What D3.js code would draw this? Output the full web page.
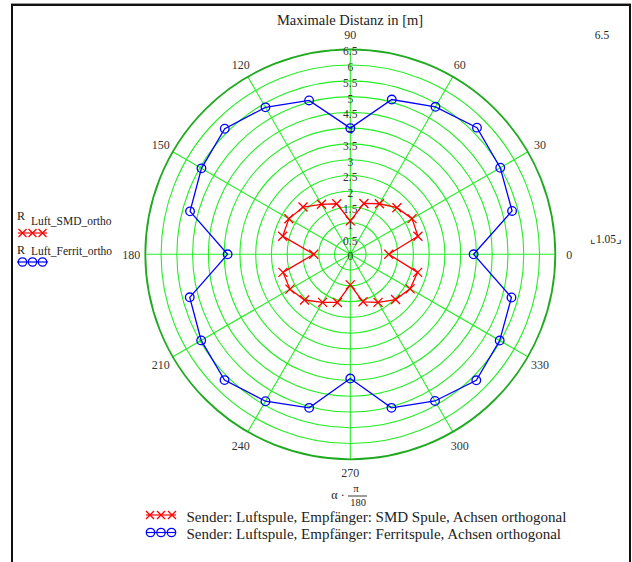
<!DOCTYPE html>
<html>
<head>
<meta charset="utf-8">
<script src="https://cdn.jsdelivr.net/npm/d3@7/dist/d3.min.js"></script>
<style>
  html, body { margin: 0; padding: 0; background: #fff; }
  svg { display: block; }
  text { font-family: "Liberation Serif", "Times New Roman", serif; fill: #222; }
</style>
</head>
<body>
<svg id="chart" width="632" height="562"></svg>
<script>
// ---- data ----
const angles = [0,15,30,45,60,75,90,105,120,135,150,165,180,195,210,225,240,255,270,285,300,315,330,345];
const rSMD = [1.22,2.22,2.26,2.09,1.85,1.67,1.06,1.66,1.83,2.12,2.25,2.22,1.16,2.21,2.21,2.05,1.76,1.58,0.97,1.56,1.76,2.03,2.19,2.21];
const rFerrit = [3.91,5.31,5.49,5.68,5.40,5.08,4.00,5.05,5.38,5.63,5.45,5.26,3.89,5.27,5.46,5.64,5.38,5.04,3.94,5.04,5.37,5.65,5.47,5.29];
const ringTicks = [0,0.5,1,1.5,2,2.5,3,3.5,4,4.5,5,5.5,6,6.5];
const ringLabels = ["0","0.5","1","1.5","2","2.5","3","3.5","4","4.5","5","5.5","6","6.5"];
const angleTicks = [0,30,60,90,120,150,180,210,240,270,300,330];
const seriesNames = ["Sender: Luftspule, Empfänger: SMD Spule, Achsen orthogonal",
                     "Sender: Luftspule, Empfänger: Ferritspule, Achsen orthogonal"];
const varNames = ["Luft_SMD_ortho", "Luft_Ferrit_ortho"];

// ---- layout ----
const svg = d3.select("#chart");
const cx = 350.3, cy = 254.3, R = 205;
const rScale = d3.scaleLinear().domain([0, 6.5]).range([0, R]);
const aScale = d3.scaleLinear().domain([0, 360]).range([0, 2 * Math.PI]);
const px = (a, r) => cx + rScale(r) * Math.cos(aScale(a));
const py = (a, r) => cy - rScale(r) * Math.sin(aScale(a));

// frame
svg.append("line").attr("x1", 11).attr("x2", 631).attr("y1", 3.5).attr("y2", 3.5).attr("stroke", "#999").attr("stroke-width", 1);
svg.append("line").attr("x1", 11).attr("x2", 631).attr("y1", 5).attr("y2", 5).attr("stroke", "#111").attr("stroke-width", 2);
svg.append("line").attr("x1", 12).attr("x2", 12).attr("y1", 4).attr("y2", 562).attr("stroke", "#111").attr("stroke-width", 2);
svg.append("line").attr("x1", 630).attr("x2", 630).attr("y1", 4).attr("y2", 562).attr("stroke", "#111").attr("stroke-width", 2);

// title
svg.append("text").attr("x", 350).attr("y", 25).attr("text-anchor", "middle")
  .style("font-size", "14.5px").text("Maximale Distanz in [m]");

const g = svg.append("g");
// rings
g.selectAll("circle.ring").data(ringTicks.filter(d => d > 0 && d < 6.5)).join("circle")
  .attr("class", "ring").attr("cx", cx).attr("cy", cy).attr("r", d => rScale(d))
  .attr("fill", "none").attr("stroke", "#22ee22").attr("stroke-width", 1.1);
// radial lines
g.selectAll("line.spoke").data(angleTicks).join("line")
  .attr("class", "spoke")
  .attr("x1", cx).attr("y1", cy)
  .attr("x2", d => px(d, 6.5)).attr("y2", d => py(d, 6.5))
  .attr("stroke", "#22ee22").attr("stroke-width", 1.1);
// outer circle
g.append("circle").attr("cx", cx).attr("cy", cy).attr("r", rScale(6.5))
  .attr("fill", "none").attr("stroke", "#1faa1f").attr("stroke-width", 1.8);

// ring labels
g.selectAll("text.rl").data(ringTicks).join("text")
  .attr("class", "rl").attr("x", cx).attr("y", (d) => cy - rScale(d) + 2)
  .attr("text-anchor", "middle").attr("dominant-baseline", "central")
  .style("font-size", "11.5px").style("fill", "#333")
  .text((d, i) => ringLabels[i]);

// angle labels
g.selectAll("text.al").data(angleTicks).join("text")
  .attr("class", "al")
  .attr("x", d => cx + (R + 14) * Math.cos(aScale(d)))
  .attr("y", d => cy - (R + 15) * Math.sin(aScale(d)) + (d === 270 ? -1 : 1))
  .attr("text-anchor", "middle").attr("dominant-baseline", "central")
  .style("font-size", "12px").style("fill", "#333")
  .text(d => d);

// series
const line = d3.lineRadial().angle(d => Math.PI / 2 - aScale(d[0])).radius(d => rScale(d[1])).curve(d3.curveLinearClosed);
const smd = angles.map((a, i) => [a, rSMD[i]]);
const fer = angles.map((a, i) => [a, rFerrit[i]]);

const plot = svg.append("g").attr("transform", `translate(${cx},${cy})`);
plot.append("path").attr("d", line(smd)).attr("fill", "none").attr("stroke", "#ff0000").attr("stroke-width", 1.3);
plot.append("path").attr("d", line(fer)).attr("fill", "none").attr("stroke", "#0000ff").attr("stroke-width", 1.3);

function cross(sel, x, y, s) {
  sel.append("path").attr("d", `M${x - s},${y - s}L${x + s},${y + s}M${x - s},${y + s}L${x + s},${y - s}`)
    .attr("stroke", "#ff0000").attr("stroke-width", 1.3).attr("fill", "none");
}
smd.forEach(d => cross(svg, px(d[0], d[1]), py(d[0], d[1]), 4.5));
svg.selectAll("circle.fm").data(fer).join("circle").attr("class", "fm")
  .attr("cx", d => px(d[0], d[1])).attr("cy", d => py(d[0], d[1])).attr("r", 4.3)
  .attr("fill", "none").attr("stroke", "#0000ff").attr("stroke-width", 1.3);

// right side labels
svg.append("text").attr("x", 602).attr("y", 35).attr("text-anchor", "middle").attr("dominant-baseline", "central")
  .style("font-size", "11.5px").text("6.5");
svg.append("text").attr("x", 606).attr("y", 238.5).attr("text-anchor", "middle").attr("dominant-baseline", "central")
  .style("font-size", "11.5px").text("⌞1.05⌟");

// left variable legend
function miniCrosses(sel, x0, x1, y, xs) {
  sel.append("line").attr("x1", x0).attr("x2", x1).attr("y1", y).attr("y2", y).attr("stroke", "#ff0000").attr("stroke-width", 1.2);
  xs.forEach(x => cross(sel, x, y, 4));
}
function miniCircles(sel, x0, x1, y, xs) {
  sel.append("line").attr("x1", x0).attr("x2", x1).attr("y1", y).attr("y2", y).attr("stroke", "#0000ff").attr("stroke-width", 1.2);
  xs.forEach(x => sel.append("circle").attr("cx", x).attr("cy", y).attr("r", 4.2)
    .attr("fill", "none").attr("stroke", "#0000ff").attr("stroke-width", 1.3));
}
svg.append("text").attr("x", 17).attr("y", 220).style("font-size", "12px").text("R");
svg.append("text").attr("x", 31).attr("y", 224.5).style("font-size", "11.5px").text(varNames[0]);
miniCrosses(svg, 18, 47, 233, [22.5, 32.5, 42.5]);
svg.append("text").attr("x", 17).attr("y", 254).style("font-size", "12px").text("R");
svg.append("text").attr("x", 31).attr("y", 254.5).style("font-size", "11.5px").text(varNames[1]);
miniCircles(svg, 17, 48, 262, [22.5, 32.5, 42.5]);

// axis expression below
svg.append("text").attr("x", 338).attr("y", 499).attr("text-anchor", "middle").style("font-size", "12px").text("α ·");
svg.append("text").attr("x", 356).attr("y", 492).attr("text-anchor", "middle").style("font-size", "11px").text("π");
svg.append("line").attr("x1", 348).attr("x2", 367).attr("y1", 496).attr("y2", 496).attr("stroke", "#222").attr("stroke-width", 0.9);
svg.append("text").attr("x", 358).attr("y", 506).attr("text-anchor", "middle").style("font-size", "10.5px").text("180");

// bottom legend
miniCrosses(svg, 146, 176, 515, [150, 161, 172]);
miniCircles(svg, 146, 176, 532.5, [150.5, 161, 171.5]);
svg.append("text").attr("x", 186.5).attr("y", 522).style("font-size", "15px").text(seriesNames[0]);
svg.append("text").attr("x", 186.5).attr("y", 538.5).style("font-size", "15px").text(seriesNames[1]);
</script>
</body>
</html>
